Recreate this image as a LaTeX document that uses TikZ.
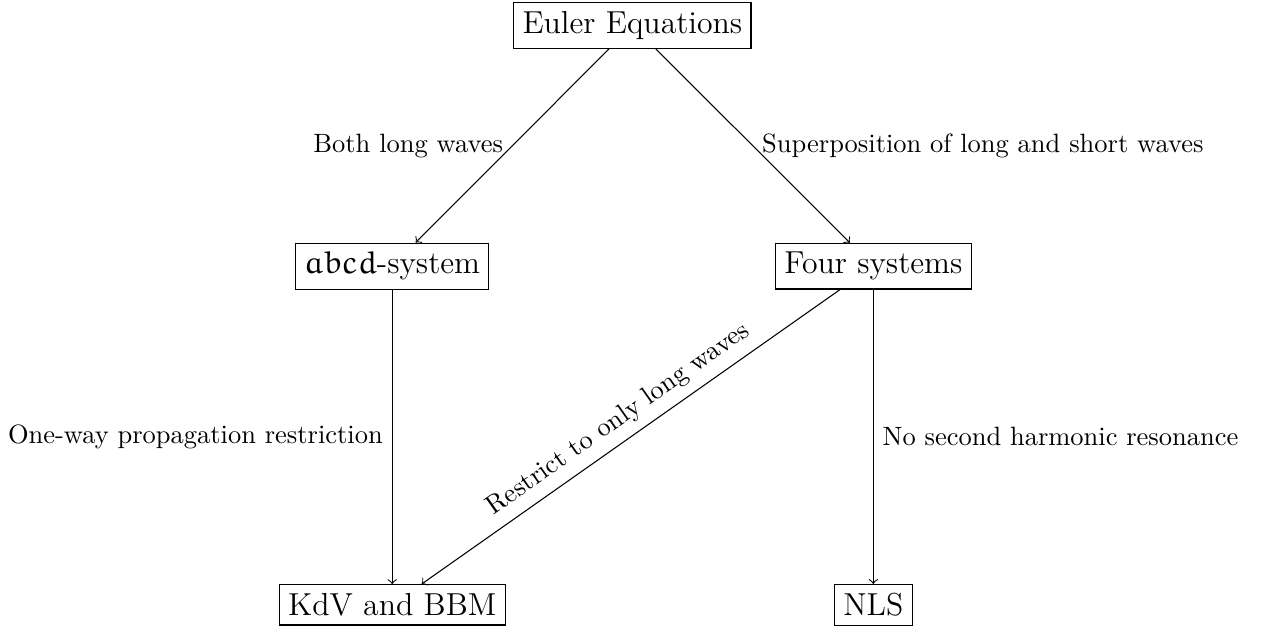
\documentclass[tikz,border=0pt]{standalone}
\font\eurmfont=eurm10 at 12pt
\tikzset{
  box/.style={draw, font=\large, inner sep=3.33pt},
  conn/.style={->},
  lbl/.style={font=\normalsize}
}
\begin{document}
\begin{tikzpicture}[x=1pt,y=1pt]
\useasboundingbox (0,0) rectangle (479.6,-237.2);
\node[box] (euler) at (238.8,-9.63) {Euler Equations};
\node[box] (abcd) at (148.1,-100.5) {{\eurmfont abcd}-system};
\node[box] (four) at (329.8,-100.5) {Four systems};
\node[box] (kdv) at (148.1,-228.4) {KdV and BBM};
\node[box] (nls) at (329.8,-228.4) {NLS};
\draw[conn] (euler) -- node[midway,left,lbl] {Both long waves} (abcd);
\draw[conn] (euler) -- node[midway,right,lbl] {Superposition of long and short waves} (four);
\draw[conn] (abcd) -- node[midway,left,lbl] {One-way propagation restriction} (kdv);
\draw[conn] (four) -- node[midway,above,sloped,lbl] {Restrict to only long waves} (kdv);
\draw[conn] (four) -- node[midway,right,lbl] {No second harmonic resonance} (nls);
\end{tikzpicture}
\end{document}
